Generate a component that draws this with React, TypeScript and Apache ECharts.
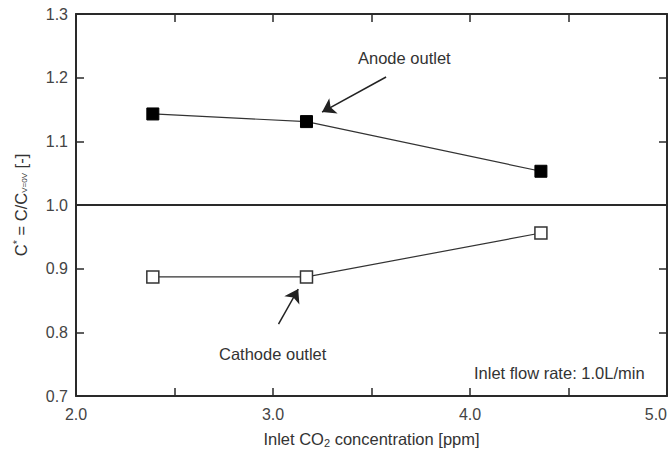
import React, { useEffect, useRef } from "react";
import * as echarts from "echarts";

const concentration = [2.39, 3.17, 4.36];
const anodeValues = [1.143, 1.131, 1.053];
const cathodeValues = [0.887, 0.887, 0.956];
const xTicks = [2.0, 3.0, 4.0, 5.0];
const yTicks = [0.7, 0.8, 0.9, 1.0, 1.1, 1.2, 1.3];
const referenceLine = 1.0;
const anodeArrow = [[3.574, 1.201], [3.249, 1.146]];
const cathodeArrow = [[3.028, 0.813], [3.128, 0.868]];

const FONT = "'Liberation Sans', Arial, sans-serif";
const INK = "#2a2a2a";

export default function App() {
  const ref = useRef<HTMLDivElement>(null);
  useEffect(() => {
    if (!ref.current) return;
    const chart = echarts.init(ref.current, null, { renderer: "svg" });
    const axisCommon = {
      axisLine: { show: true, onZero: false, lineStyle: { color: INK, width: 2 } },
      axisTick: { show: true, inside: true, length: 8, lineStyle: { color: INK, width: 1.5 } },
      splitLine: { show: false },
    };
    const xMin = xTicks[0];
    const xMax = xTicks[xTicks.length - 1];
    const yMin = yTicks[0];
    const yMax = yTicks[yTicks.length - 1];
    chart.setOption({
      animation: false,
      backgroundColor: "#ffffff",
      textStyle: { fontFamily: FONT },
      grid: { left: 76, right: 3, top: 14, bottom: 63 },
      xAxis: [
        {
          type: "value",
          position: "bottom",
          min: xMin,
          max: xMax,
          interval: 1,
          ...axisCommon,
          minorTick: { show: true, splitNumber: 2, length: 8, lineStyle: { color: INK, width: 1.5 } },
          axisLabel: {
            color: "#444",
            fontSize: 16,
            fontFamily: FONT,
            margin: 10,
            formatter: (v: number) => v.toFixed(1),
            alignMaxLabel: "right",
          },
          name: "Inlet CO{sub|2} concentration [ppm]",
          nameLocation: "middle",
          nameGap: 33,
          nameTextStyle: {
            color: "#333",
            fontSize: 16.5,
            fontFamily: FONT,
            rich: {
              sub: { fontSize: 11, fontFamily: FONT, color: "#333", padding: [8, 0, 0, 0] },
            },
          },
        },
        {
          type: "value",
          position: "top",
          min: xMin,
          max: xMax,
          interval: 1,
          ...axisCommon,
          minorTick: { show: true, splitNumber: 2, length: 8, lineStyle: { color: INK, width: 1.5 } },
          axisLabel: { show: false },
        },
      ],
      yAxis: [
        {
          type: "value",
          position: "left",
          min: yMin,
          max: yMax,
          interval: 0.1,
          ...axisCommon,
          axisLabel: {
            color: "#444",
            fontSize: 16,
            fontFamily: FONT,
            margin: 8,
            formatter: (v: number) => v.toFixed(1),
          },
          name: "C{sup|*} = C/C{sub|V=0V} [-]",
          nameLocation: "middle",
          nameRotate: 90,
          nameGap: 45,
          nameTextStyle: {
            color: "#333",
            fontSize: 16.5,
            fontFamily: FONT,
            rich: {
              sup: { fontSize: 11, fontFamily: FONT, color: "#333", padding: [0, 0, 9, 0] },
              sub: { fontSize: 8, fontFamily: FONT, color: "#333", padding: [7, 0, 0, 0] },
            },
          },
        },
        {
          type: "value",
          position: "right",
          min: yMin,
          max: yMax,
          interval: 0.1,
          ...axisCommon,
          axisLabel: { show: false },
        },
      ],
      series: [
        {
          name: "Anode outlet",
          type: "line",
          xAxisIndex: 0,
          yAxisIndex: 0,
          data: concentration.map((x, i) => [x, anodeValues[i]]),
          symbol: "rect",
          symbolSize: 12,
          lineStyle: { color: "#333", width: 1.2 },
          itemStyle: { color: "#000", borderColor: "#000", borderWidth: 1 },
          z: 3,
          markLine: {
            silent: true,
            symbol: ["none", "none"],
            label: { show: false },
            lineStyle: { color: INK, width: 2, type: "solid" },
            data: [{ yAxis: referenceLine }],
          },
        },
        {
          name: "Cathode outlet",
          type: "line",
          xAxisIndex: 0,
          yAxisIndex: 0,
          data: concentration.map((x, i) => [x, cathodeValues[i]]),
          symbol: "rect",
          symbolSize: 12,
          lineStyle: { color: "#333", width: 1.2 },
          itemStyle: { color: "#fff", borderColor: "#333", borderWidth: 1.5 },
          z: 3,
        },
        {
          name: "arrows",
          type: "lines",
          coordinateSystem: "cartesian2d",
          xAxisIndex: 0,
          yAxisIndex: 0,
          symbol: ["none", "arrow"],
          symbolSize: [9, 13],
          lineStyle: { color: "#222", width: 1.5, opacity: 1 },
          data: [{ coords: anodeArrow }, { coords: cathodeArrow }],
          z: 4,
        },
      ],
      graphic: [
        {
          type: "text",
          left: 358,
          top: 49,
          style: { text: "Anode outlet", fill: "#333", fontSize: 16.5, fontFamily: FONT },
        },
        {
          type: "text",
          left: 219,
          top: 345,
          style: { text: "Cathode outlet", fill: "#333", fontSize: 16.5, fontFamily: FONT },
        },
        {
          type: "text",
          left: 474,
          top: 364,
          style: { text: "Inlet flow rate: 1.0L/min", fill: "#333", fontSize: 16.5, fontFamily: FONT },
        },
      ],
    });
    return () => chart.dispose();
  }, []);
  return (
    <div
      ref={ref}
      style={{ position: "fixed", left: 0, top: 0, width: 670, height: 459, background: "#fff" }}
    />
  );
}
